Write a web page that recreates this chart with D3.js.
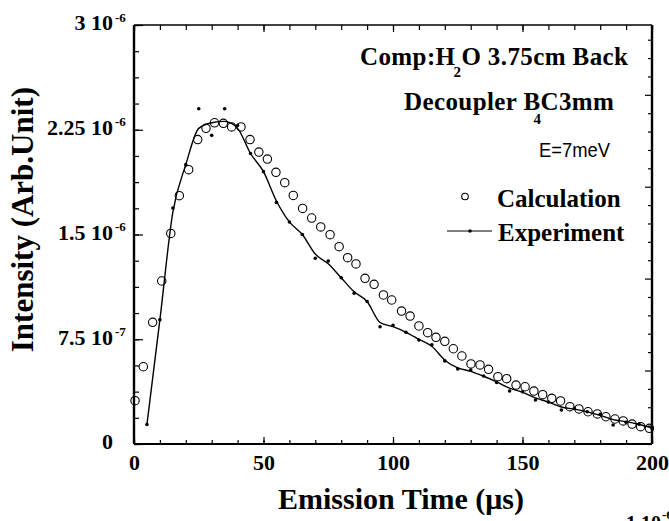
<!DOCTYPE html>
<html><head><meta charset="utf-8">
<script src="https://cdn.jsdelivr.net/npm/d3@7"></script>
<style>body{margin:0;background:#fff} svg{display:block}</style>
</head><body><svg id="c" width="669" height="521"></svg>
<script>
// Calculation (open circles), intensity in units of 10^-6
const calcTime = [0.4,3.6,7.2,10.7,14.2,17.5,21.1,24.6,27.8,31.1,34.5,37.7,41.3,44.8,48.2,51.5,54.8,58.2,61.5,65.1,68.6,72.1,75.7,79.2,82.5,85.7,89.2,92.7,96.3,99.5,103.3,106.6,110,113.4,116.6,120,123.3,126.6,130.1,133.6,136.9,140.5,143.9,147.5,151,154.4,157.8,161.3,164.7,168.3,171.8,175.3,178.9,182.2,185.7,188.9,192.3,195.6,199];
const calcIntensity = [0.31,0.553,0.871,1.167,1.508,1.778,1.964,2.18,2.26,2.30,2.296,2.27,2.27,2.18,2.09,2.04,1.945,1.871,1.78,1.687,1.618,1.554,1.499,1.413,1.334,1.289,1.186,1.143,1.067,1.031,0.952,0.916,0.845,0.797,0.764,0.735,0.682,0.63,0.573,0.566,0.535,0.482,0.468,0.422,0.41,0.379,0.353,0.327,0.308,0.267,0.251,0.231,0.215,0.195,0.179,0.165,0.143,0.124,0.112];
// Experiment: measured points (dots) and drawn curve, units of 10^-6
const expTime = [5,10,15,20,25,30,35,40,45,50,55,60,65,70,75,80,85,90,95,100,105,110,115,120,125,130,135,140,145,150,155,160,165,170,175,180,185,190,195,200];
const expPoints = [0.14,0.89,1.69,2.00,2.40,2.21,2.40,2.28,2.08,1.95,1.73,1.59,1.50,1.33,1.31,1.19,1.08,1.02,0.84,0.85,0.80,0.745,0.71,0.595,0.537,0.53,0.487,0.44,0.38,0.374,0.315,0.30,0.243,0.255,0.231,0.212,0.136,0.155,0.141,0.112];
const expCurve = [0.14,0.89,1.66,2.00,2.26,2.30,2.31,2.26,2.08,1.95,1.74,1.59,1.50,1.36,1.29,1.19,1.09,1.02,0.87,0.84,0.80,0.75,0.70,0.60,0.545,0.52,0.485,0.445,0.40,0.37,0.33,0.30,0.265,0.25,0.23,0.205,0.175,0.16,0.14,0.115];
// ticks
const xTickValues = [0,50,100,150,200];
const xTickLabels = ["0","50","100","150","200"];
const xMinorTicks = d3.range(0,201,10);
const yTickValues = [0,0.75,1.5,2.25,3];
const yTickMantissa = ["0","7.5","1.5","2.25","3"];
const yTickExponent = ["","-7","-6","-6","-6"];
const yMinorTicks = d3.range(0,17).map(i=>i*0.1875);
const rightTicks = d3.range(0,23);

const svg = d3.select("#c");
svg.append("rect").attr("width",669).attr("height",521).attr("fill","#fff");
const L=134,R=652,T=25,B=444;
const x = d3.scaleLinear().domain([0,200]).range([L,R]);
const y = d3.scaleLinear().domain([0,3]).range([B,T]);
const yRight = d3.scaleLinear().domain([0,22.8]).range([B,T]);
const serif = "'Liberation Serif','Times New Roman',serif";

function clean(g){ g.select(".domain").remove(); g.selectAll("line").attr("stroke","#000").attr("stroke-width",1.2); }

// bottom
svg.append("g").attr("transform",`translate(0,${B})`)
  .call(d3.axisBottom(x).tickValues(xMinorTicks).tickSize(-4).tickFormat("")).call(clean);
const xb = svg.append("g").attr("transform",`translate(0,${B})`)
  .call(d3.axisBottom(x).tickValues(xTickValues).tickSize(-7).tickPadding(10).tickFormat((d,i)=>xTickLabels[i])).call(clean);
xb.selectAll("text").attr("font-family",serif).attr("font-size",22).attr("font-weight","bold").attr("fill","#000");
// top
svg.append("g").attr("transform",`translate(0,${T})`)
  .call(d3.axisTop(x).tickValues(xMinorTicks).tickSize(-5).tickFormat("")).call(clean);
svg.append("g").attr("transform",`translate(0,${T})`)
  .call(d3.axisTop(x).tickValues(xTickValues).tickSize(-7).tickFormat("")).call(clean);
// left
svg.append("g").attr("transform",`translate(${L},0)`)
  .call(d3.axisLeft(y).tickValues(yMinorTicks).tickSize(-5).tickFormat("")).call(clean);
const yl = svg.append("g").attr("transform",`translate(${L},0)`)
  .call(d3.axisLeft(y).tickValues(yTickValues).tickSize(-9).tickPadding(21)
    .tickFormat((d,i)=> yTickExponent[i] ? yTickMantissa[i]+" 10" : yTickMantissa[i])).call(clean);
yl.selectAll("text").attr("font-family",serif).attr("font-size",22).attr("font-weight","bold").attr("fill","#000").attr("dy","0.22em");
yl.selectAll(".tick").each(function(d,i){
  if(!yTickExponent[i]) return;
  d3.select(this).append("text").attr("x",-19).attr("y",-4).attr("text-anchor","start")
    .attr("font-family",serif).attr("font-size",13).attr("font-weight","bold").attr("fill","#000")
    .text(yTickExponent[i]);
});
// right
const yr = svg.append("g").attr("transform",`translate(${R},0)`)
  .call(d3.axisRight(yRight).tickValues(rightTicks).tickSize(-4).tickFormat("")).call(clean);
yr.selectAll(".tick line").attr("x2",(d)=> d%5===4 ? -7 : -4);

// frame
const fr = svg.append("g").attr("stroke","#000").attr("fill","none");
fr.append("line").attr("x1",L).attr("x2",R).attr("y1",T).attr("y2",T).attr("stroke-width",1.6);
fr.append("line").attr("x1",L).attr("x2",R).attr("y1",B).attr("y2",B).attr("stroke-width",2);
fr.append("line").attr("x1",L).attr("x2",L).attr("y1",T).attr("y2",B).attr("stroke-width",2.4);
fr.append("line").attr("x1",R).attr("x2",R).attr("y1",T).attr("y2",B).attr("stroke-width",2.4);

// experiment curve
const line = d3.line().x((d,i)=>x(expTime[i])).y(d=>y(d)).curve(d3.curveMonotoneX);
svg.append("path").datum(expCurve).attr("d",line).attr("fill","none").attr("stroke","#000").attr("stroke-width",1.4);
svg.append("g").selectAll("circle").data(expPoints).join("circle")
  .attr("cx",(d,i)=>x(expTime[i])).attr("cy",d=>y(d)).attr("r",1.8).attr("fill","#000");
// calculation circles
svg.append("g").selectAll("circle").data(calcIntensity).join("circle")
  .attr("cx",(d,i)=>x(calcTime[i])).attr("cy",d=>y(d)).attr("r",4.2)
  .attr("fill","none").attr("stroke","#000").attr("stroke-width",1.1);

// annotations
function bt(xp,yp,size){ return svg.append("text").attr("x",xp).attr("y",yp).attr("font-family",serif)
  .attr("font-size",size).attr("font-weight","bold").attr("fill","#000"); }
const t1 = bt(360,65,25).attr("letter-spacing",0.4);
t1.append("tspan").text("Comp:H");
t1.append("tspan").attr("dx",-2).attr("dy",12).attr("font-size",15).text("2");
t1.append("tspan").attr("dy",-12).text("O 3.75cm Back");
const t2 = bt(404,110,25).attr("letter-spacing",0.4);
t2.append("tspan").text("Decoupler B");
t2.append("tspan").attr("dx",-7).attr("dy",14).attr("font-size",15).text("4");
t2.append("tspan").attr("dx",-1).attr("dy",-14).text("C3mm");
svg.append("text").attr("x",539).attr("y",157).attr("font-family","'Liberation Sans',Arial,sans-serif")
  .attr("font-size",20).attr("textLength",71).attr("lengthAdjust","spacingAndGlyphs").attr("fill","#000").text("E=7meV");

// legend
svg.append("circle").attr("cx",465).attr("cy",196.5).attr("r",3.3).attr("fill","none").attr("stroke","#000").attr("stroke-width",1.1);
bt(497,207,25).text("Calculation");
svg.append("line").attr("x1",447).attr("x2",492).attr("y1",231).attr("y2",231).attr("stroke","#000").attr("stroke-width",1.2);
svg.append("circle").attr("cx",470).attr("cy",231).attr("r",1.8).attr("fill","#000");
bt(498,241,25).text("Experiment");

// axis titles
bt(401,509,30).attr("text-anchor","middle").text("Emission Time (\u03bcs)");
bt(0,0,31).attr("text-anchor","end").attr("transform","translate(33,87) rotate(-90)").text("Intensity (Arb.Unit)");

// cut-off fragment at bottom right (part of a figure below, cropped in the reference)
bt(661,530,20).attr("text-anchor","end").text("1 10");
bt(662,519,13).text("-6");
</script></body></html>
